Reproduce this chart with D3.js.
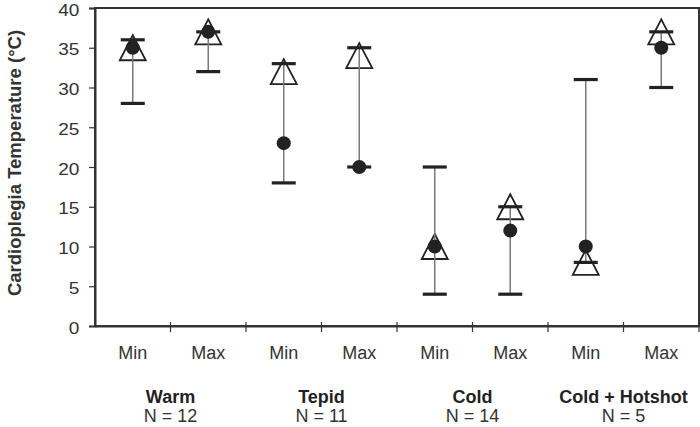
<!DOCTYPE html>
<html><head><meta charset="utf-8">
<script src="https://cdn.jsdelivr.net/npm/d3@7"></script>
<style>
html,body{margin:0;padding:0;background:#fff;}
svg{display:block;font-family:"Liberation Sans",Arial,sans-serif;}
</style></head>
<body>
<svg id="c" width="700" height="427"></svg>
<script>
const slots = ["Warm Min","Warm Max","Tepid Min","Tepid Max","Cold Min","Cold Max","Hot Min","Hot Max"];
const slotLabels = ["Min","Max","Min","Max","Min","Max","Min","Max"];
const groups = ["Warm","Tepid","Cold","Cold + Hotshot"];
const groupN = ["N = 12","N = 11","N = 14","N = 5"];
const rangeLow = [28,32,18,20,4,4,8,30];
const rangeHigh = [36,37,33,35,20,15,31,37];
const triangleVals = [35,37,32,34,10,15,8,37];
const circleVals = [35,37,23,20,10,12,10,35];
const yTicks = [0,5,10,15,20,25,30,35,40];

const svg = d3.select("#c");
const L=95, R=699, T=8, B=326;
const x = d3.scaleBand().domain(slots).range([L,R]).padding(0);
const y = d3.scaleLinear().domain([0,40]).range([B,T]);
const cx = s => x(s)+x.bandwidth()/2;
const axisCol="#333";

// frame
svg.append("rect").attr("x",L).attr("y",T).attr("width",R-L).attr("height",B-T)
  .attr("fill","none").attr("stroke",axisCol).attr("stroke-width",2);

// y axis
const ya = svg.append("g").attr("transform",`translate(${L},0)`)
  .call(d3.axisLeft(y).tickValues(yTicks).tickSize(6).tickPadding(8).tickFormat(d3.format("d")));
ya.select(".domain").attr("stroke",axisCol).attr("stroke-width",2);
ya.selectAll(".tick line").attr("stroke",axisCol).attr("stroke-width",1.2);
ya.selectAll("text").attr("font-size",17).attr("dy","0.42em").attr("fill","#333")
  .attr("font-family","Liberation Sans, Arial, sans-serif")
  .attr("transform","scale(1.12,1)");

// x axis with ticks at band boundaries
const xa = svg.append("g").attr("transform",`translate(0,${B})`)
  .call(d3.axisBottom(x).tickSize(0).tickFormat(""));
xa.select(".domain").attr("stroke",axisCol).attr("stroke-width",2);
xa.selectAll(".tick").remove();
const bounds = slots.slice(1).map(s=>x(s)).concat([R]);
svg.append("g").selectAll("line").data(bounds).join("line")
  .attr("x1",d=>d).attr("x2",d=>d).attr("y1",B-4).attr("y2",B+6)
  .attr("stroke",axisCol).attr("stroke-width",1.2);

// slot labels
svg.append("g").selectAll("text").data(slots).join("text")
  .attr("x",d=>cx(d)).attr("y",359).attr("text-anchor","middle")
  .attr("font-size",18).attr("fill","#333").text((d,i)=>slotLabels[i]);

// group labels
const gx = i => (cx(slots[2*i])+cx(slots[2*i+1]))/2;
svg.append("g").selectAll("text").data(groups).join("text")
  .attr("x",(d,i)=>gx(i)).attr("y",403).attr("text-anchor","middle")
  .attr("font-size",18).attr("font-weight","bold").attr("fill","#222").text(d=>d);
svg.append("g").selectAll("text").data(groupN).join("text")
  .attr("x",(d,i)=>gx(i)).attr("y",422).attr("text-anchor","middle")
  .attr("font-size",18).attr("fill","#333").text(d=>d);

// y title
svg.append("text").attr("transform",`translate(21,163) rotate(-90)`)
  .attr("text-anchor","middle").attr("font-size",18.5).attr("font-weight","bold").attr("fill","#333")
  .text("Cardioplegia Temperature (°C)");

const plot = svg.append("g");
// triangles
const tw=26, th=25;
plot.selectAll("path.tri").data(slots).join("path").attr("class","tri")
  .attr("d",(d,i)=>{const X=cx(d), Y=y(triangleVals[i]);
    return `M${X},${Y-th/2}L${X+tw/2},${Y+th/2}L${X-tw/2},${Y+th/2}Z`;})
  .attr("fill","#fff").attr("stroke","#222").attr("stroke-width",1.8);
// whiskers
plot.selectAll("line.wh").data(slots).join("line").attr("class","wh")
  .attr("x1",d=>cx(d)).attr("x2",d=>cx(d))
  .attr("y1",(d,i)=>y(rangeLow[i])).attr("y2",(d,i)=>y(rangeHigh[i]))
  .attr("stroke","#7a7a7a").attr("stroke-width",1.5);
// caps
const cw=24;
[rangeLow,rangeHigh].forEach(arr=>{
  plot.append("g").selectAll("line").data(slots).join("line")
    .attr("x1",d=>cx(d)-cw/2).attr("x2",d=>cx(d)+cw/2)
    .attr("y1",(d,i)=>y(arr[i])).attr("y2",(d,i)=>y(arr[i]))
    .attr("stroke","#222").attr("stroke-width",3.2);
});
// circles
plot.selectAll("circle").data(slots).join("circle")
  .attr("cx",d=>cx(d)).attr("cy",(d,i)=>y(circleVals[i])).attr("r",7)
  .attr("fill","#222");
</script>
</body></html>
